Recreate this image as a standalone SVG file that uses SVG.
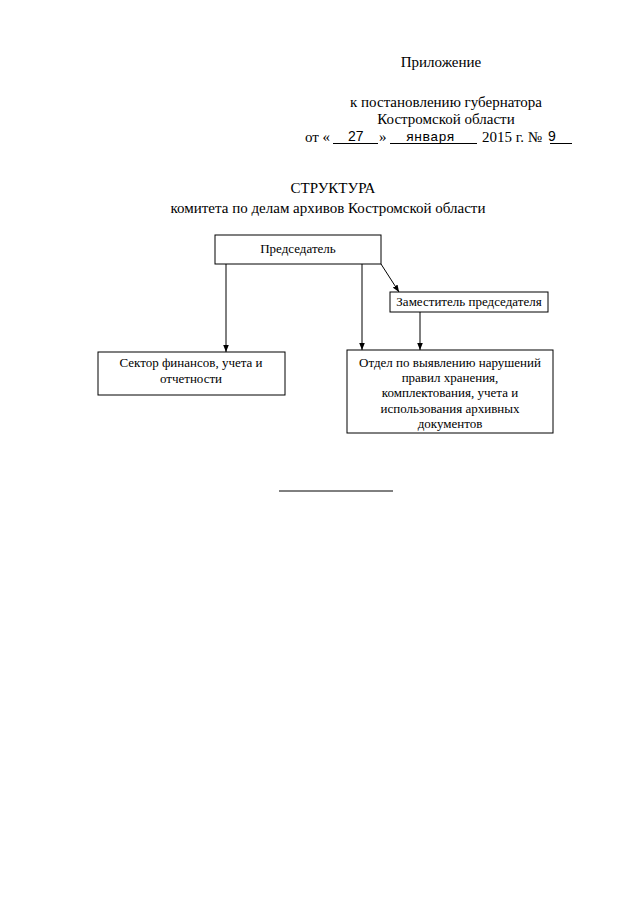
<svg xmlns="http://www.w3.org/2000/svg" width="640" height="905" viewBox="0 0 640 905">
<defs>
<style>
.t{font-family:"Liberation Serif","Times New Roman",serif;font-size:13px;fill:#000}
.h{font-family:"Liberation Serif","Times New Roman",serif;font-size:15px;fill:#000}
.sn{font-family:"Liberation Sans",Arial,sans-serif;font-size:14px;fill:#000}
.mo{font-family:"Liberation Mono","Courier New",monospace;font-size:13.5px;fill:#000}
.box{fill:#fff;stroke:#000;stroke-width:1}
.ln{stroke:#000;stroke-width:1;fill:none}
</style>
<marker id="ar" viewBox="0 0 10 10" refX="10" refY="5" markerWidth="7" markerHeight="7" orient="auto" markerUnits="userSpaceOnUse">
<path d="M0,1 L10,5 L0,9 z" fill="#000"/>
</marker>
</defs>
<rect width="640" height="905" fill="#fff"/>
<g id="header">
<text class="h" x="441" y="67" text-anchor="middle">Приложение</text>
<text class="h" x="446" y="107" text-anchor="middle">к постановлению губернатора</text>
<text class="h" x="446" y="124" text-anchor="middle">Костромской области</text>
<text class="h" x="305" y="142">от «</text>
<text class="sn" x="348" y="141">27</text>
<text class="h" x="379" y="142">»</text>
<text class="mo" x="406" y="141">января</text>
<text class="h" x="482" y="142">2015 г. №</text>
<text class="sn" x="548" y="141">9</text>
<line class="ln" x1="333" y1="143.5" x2="378" y2="143.5"/>
<line class="ln" x1="390" y1="143.5" x2="477" y2="143.5"/>
<line class="ln" x1="550" y1="143.5" x2="572" y2="143.5"/>
<text class="h" x="333" y="193" text-anchor="middle">СТРУКТУРА</text>
<text class="h" x="328" y="213" text-anchor="middle">комитета по делам архивов Костромской области</text>
</g>
<g id="connectors">
<line class="ln" x1="226" y1="264" x2="226" y2="352" marker-end="url(#ar)"/>
<line class="ln" x1="362" y1="264" x2="362" y2="350" marker-end="url(#ar)"/>
<line class="ln" x1="381" y1="264" x2="399" y2="292" marker-end="url(#ar)"/>
<line class="ln" x1="420" y1="312" x2="420" y2="350" marker-end="url(#ar)"/>
</g>
<g id="n1">
<rect class="box" x="215" y="235" width="166" height="29"/>
<text class="t" x="298" y="253" text-anchor="middle">Председатель</text>
</g>
<g id="n2">
<rect class="box" x="390" y="292" width="158" height="20"/>
<text class="t" x="469" y="306" text-anchor="middle">Заместитель председателя</text>
</g>
<g id="n3">
<rect class="box" x="98" y="352" width="187" height="43"/>
<text class="t" x="191" y="367" text-anchor="middle">Сектор финансов, учета и</text>
<text class="t" x="191" y="383" text-anchor="middle">отчетности</text>
</g>
<g id="n4">
<rect class="box" x="347" y="350" width="206" height="83"/>
<text class="t" x="450" y="367" text-anchor="middle">Отдел по выявлению нарушений</text>
<text class="t" x="450" y="382" text-anchor="middle">правил хранения,</text>
<text class="t" x="450" y="397" text-anchor="middle">комплектования, учета и</text>
<text class="t" x="450" y="413" text-anchor="middle">использования архивных</text>
<text class="t" x="450" y="428" text-anchor="middle">документов</text>
</g>
<line class="ln" x1="279" y1="491" x2="393" y2="491"/>
</svg>
